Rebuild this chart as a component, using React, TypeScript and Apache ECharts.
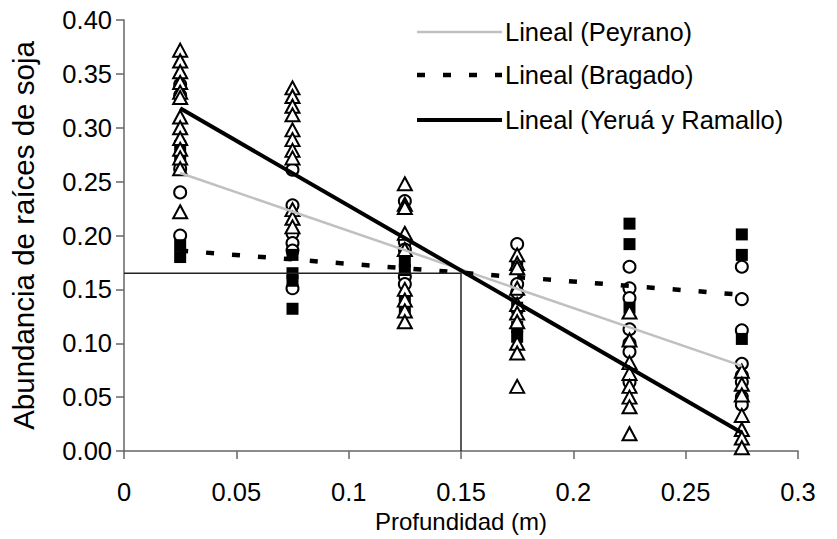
import React, { useEffect, useRef } from "react";
import * as echarts from "echarts";

const FONT = "Liberation Sans";

// Depth classes (m)
const depths = [0.025, 0.075, 0.125, 0.175, 0.225, 0.275];

// Observed root abundance per depth class
const peyrano: number[][] = [
  [0.34, 0.33, 0.262, 0.24, 0.2],
  [0.261, 0.228, 0.202, 0.193, 0.186, 0.151],
  [0.232, 0.194, 0.187, 0.162, 0.155],
  [0.192, 0.155, 0.147],
  [0.171, 0.151, 0.142, 0.113, 0.1, 0.092, 0.064],
  [0.171, 0.141, 0.112, 0.081, 0.07, 0.064, 0.05, 0.043],
];
const bragado: number[][] = [
  [0.283, 0.272, 0.191, 0.18],
  [0.182, 0.165, 0.158, 0.132],
  [0.176, 0.168, 0.14, 0.132],
  [0.17, 0.133, 0.115, 0.106],
  [0.211, 0.192, 0.133],
  [0.201, 0.182, 0.104],
];
const yerua: number[][] = [
  [0.372, 0.362, 0.352, 0.342, 0.333, 0.328, 0.31, 0.3, 0.29, 0.28, 0.272, 0.262, 0.222],
  [0.337, 0.329, 0.32, 0.312, 0.298, 0.289, 0.279, 0.272, 0.224, 0.216, 0.208],
  [0.248, 0.229, 0.226, 0.202, 0.187, 0.15, 0.14, 0.13, 0.12],
  [0.182, 0.174, 0.17, 0.151, 0.136, 0.128, 0.12, 0.1, 0.091, 0.06],
  [0.129, 0.103, 0.082, 0.072, 0.06, 0.05, 0.041, 0.016],
  [0.074, 0.062, 0.052, 0.033, 0.02, 0.012, 0.003],
];

// Linear trend lines (endpoints at first and last depth class)
const trendX = [0.025, 0.275];
const trendPeyrano = [0.258, 0.079];
const trendBragado = [0.186, 0.145];
const trendYerua = [0.318, 0.017];

// Reference lines marking the intersection
const refX = [0, 0.15, 0.15];
const refY = [0.165, 0.165, 0];

const seriesNames = ["Lineal (Peyrano)", "Lineal (Bragado)", "Lineal (Yeruá y Ramallo)"];

const toPoints = (groups: number[][]) =>
  groups.flatMap((vals, i) => vals.map((v) => [depths[i], v]));
const toLine = (xs: number[], ys: number[]) => xs.map((x, i) => [x, ys[i]]);

const lineStyles = [
  { stroke: "#c0c0c0", lineWidth: 2.5 },
  { stroke: "#000", lineWidth: 4.5, lineDash: [8, 18] },
  { stroke: "#000", lineWidth: 4 },
];

export default function App() {
  const ref = useRef<HTMLDivElement>(null);
  useEffect(() => {
    if (!ref.current) return;
    const chart = echarts.init(ref.current, undefined, { renderer: "svg" });
    const axisCommon = {
      type: "value" as const,
      axisLine: { show: true, lineStyle: { color: "#666", width: 1.5 } },
      axisTick: { show: true, inside: false, length: 8, lineStyle: { color: "#666", width: 1.5 } },
      splitLine: { show: false },
    };
    const legendY = [32, 75, 120];
    const legendGraphic = seriesNames.flatMap((name, i) => [
      {
        type: "line",
        shape: { x1: 417, y1: legendY[i], x2: 502, y2: legendY[i] },
        style: { ...lineStyles[i], lineDashOffset: 0 },
        silent: true,
      },
      {
        type: "text",
        x: 505,
        y: legendY[i],
        style: {
          text: name,
          fontFamily: FONT,
          fontSize: 25.5,
          fill: "#000",
          verticalAlign: "middle",
          align: "left",
        },
        silent: true,
      },
    ]);
    chart.setOption({
      animation: false,
      backgroundColor: "#fff",
      grid: { left: 124, right: 39, top: 20, bottom: 88, containLabel: false },
      graphic: legendGraphic,
      xAxis: {
        ...axisCommon,
        min: 0,
        max: 0.3,
        interval: 0.05,
        name: "Profundidad (m)",
        nameLocation: "middle",
        nameGap: 57,
        nameTextStyle: { fontFamily: FONT, fontSize: 24, color: "#000" },
        axisLabel: { fontFamily: FONT, fontSize: 25.5, color: "#000", margin: 28 },
      },
      yAxis: {
        ...axisCommon,
        min: 0,
        max: 0.4,
        interval: 0.05,
        name: "Abundancia de raíces de soja",
        nameLocation: "middle",
        nameGap: 86,
        nameTextStyle: { fontFamily: FONT, fontSize: 29.5, color: "#000" },
        axisLabel: {
          fontFamily: FONT,
          fontSize: 25.5,
          color: "#000",
          margin: 12,
          formatter: (v: number) => v.toFixed(2),
        },
      },
      series: [
        {
          name: "Peyrano",
          type: "scatter",
          symbol: "circle",
          symbolSize: 12,
          itemStyle: { color: "#fff", borderColor: "#000", borderWidth: 2, opacity: 1 },
          data: toPoints(peyrano),
        },
        {
          name: "Bragado",
          type: "scatter",
          symbol: "rect",
          symbolSize: 12,
          itemStyle: { color: "#000", opacity: 1 },
          data: toPoints(bragado),
        },
        {
          name: "Yeruá y Ramallo",
          type: "scatter",
          symbol: "triangle",
          symbolSize: [14, 13],
          itemStyle: { color: "#fff", borderColor: "#000", borderWidth: 2, opacity: 1 },
          data: toPoints(yerua),
        },
        {
          name: seriesNames[0],
          type: "line",
          symbol: "none",
          lineStyle: { color: "#c0c0c0", width: 2.5 },
          data: toLine(trendX, trendPeyrano),
        },
        {
          name: seriesNames[1],
          type: "line",
          symbol: "none",
          lineStyle: { color: "#000", width: 4.5, type: [8, 18] },
          data: toLine(trendX, trendBragado),
        },
        {
          name: seriesNames[2],
          type: "line",
          symbol: "none",
          lineStyle: { color: "#000", width: 4 },
          data: toLine(trendX, trendYerua),
        },
        {
          name: "ref",
          type: "line",
          symbol: "none",
          lineStyle: { color: "#222", width: 1.5 },
          data: toLine(refX, refY),
          silent: true,
        },
      ],
    });
    return () => chart.dispose();
  }, []);
  return (
    <div
      ref={ref}
      style={{ position: "fixed", left: 0, top: 0, width: 837, height: 539, background: "#fff" }}
    />
  );
}
